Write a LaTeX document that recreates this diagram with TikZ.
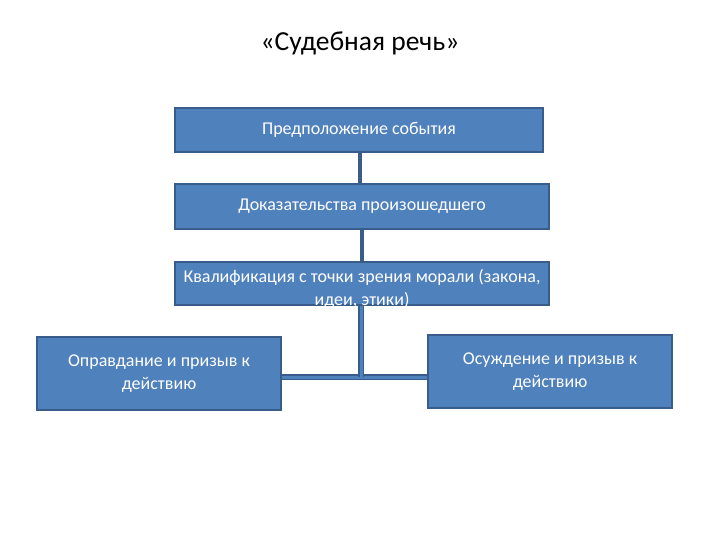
\documentclass[tikz,border=0pt]{standalone}
\usepackage{fontspec}
\setmainfont{Carlito}
\definecolor{boxfill}{HTML}{4F81BD}
\definecolor{boxline}{HTML}{385D8A}
\begin{document}
\begin{tikzpicture}[x=1pt,y=-1pt,
  boxtext/.style={text=white,font=\fontsize{18}{22.5}\selectfont,align=center},
  box/.style={boxtext,draw=boxline,line width=1.2pt,fill=boxfill,inner sep=0pt},
  conn/.style={draw=boxline,line width=4pt},
  dconn/.style={draw=boxline,double=boxfill,line width=1.5pt,double distance=3pt}]
\useasboundingbox[fill=white] (0,0) rectangle (720,540);
\node[font=\fontsize{27.5}{32}\selectfont] (title) at (360,43) {«Судебная речь»};
\node[box,minimum width=368pt,minimum height=44pt] (b1) at (359,130) {Предположение события};
\node[box,minimum width=374pt,minimum height=45pt] (b2) at (362,206.5) {Доказательства произошедшего};
\node[box,minimum width=374pt,minimum height=43pt] (b3) at (362,283.5) {};
\node[boxtext] (t3) at (362,289) {Квалификация с точки зрения морали (закона,\\идеи, этики)};
\node[box,minimum width=244pt,minimum height=73pt] (b4) at (159,373.5) {Оправдание и призыв к\\действию};
\node[box,minimum width=244pt,minimum height=73pt] (b5) at (550,371.5) {Осуждение и призыв к\\действию};
\coordinate (j) at (361,377);
\draw[conn] (359.5,152) coordinate (c1) -- (c1 |- b2.north);
\draw[conn] (b2.south) -- (b2.south |- b3.north);
\draw[dconn] (b4.east |- j) -- (b5.west |- j);
\draw[dconn] (b3.south -| j) -- (j);
\end{tikzpicture}
\end{document}
